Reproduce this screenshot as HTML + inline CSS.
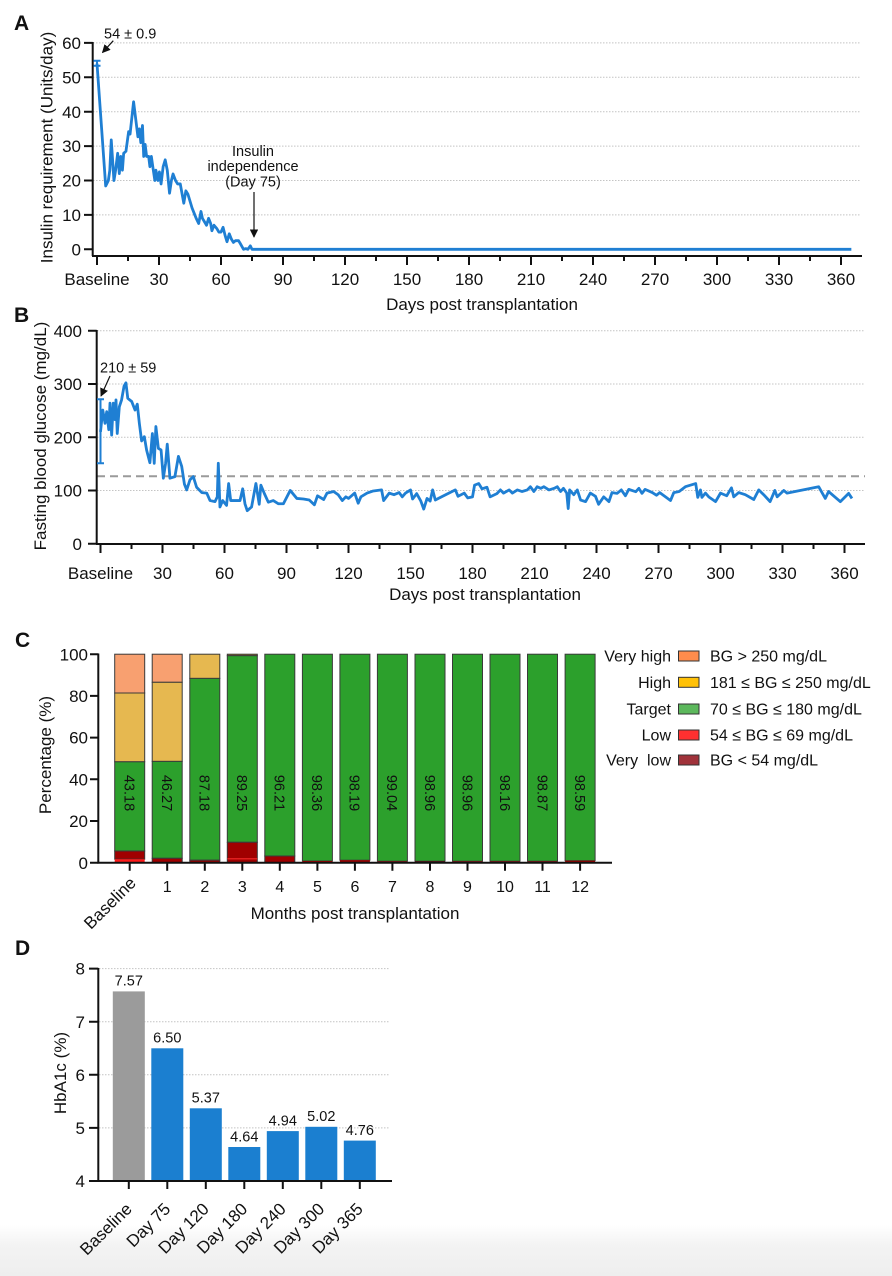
<!DOCTYPE html>
<html><head><meta charset="utf-8"><style>
html,body{margin:0;padding:0;background:#fff}
svg{display:block}
text{font-family:"Liberation Sans",Arial,sans-serif;fill:#111}
.ax{stroke:#111;stroke-width:2;fill:none}
.grid{stroke:#c4c4c4;stroke-width:1;stroke-dasharray:1.5 1.5;fill:none}
.t17{font-size:17px}
.t16{font-size:16px}
.t145{font-size:14.5px}
.lab{font-size:21px;font-weight:bold}
.ln{fill:none;stroke:#1f7fd3;stroke-width:2.8;stroke-linejoin:round;vector-effect:non-scaling-stroke}
.seg{stroke:#3a3a3a;stroke-width:1}
</style></head><body>
<svg width="892" height="1276" viewBox="0 0 892 1276" xmlns="http://www.w3.org/2000/svg">
<defs>
<linearGradient id="bot" x1="0" y1="0" x2="0" y2="1"><stop offset="0" stop-color="#fff"/><stop offset="0.4" stop-color="#f3f3f3"/><stop offset="1" stop-color="#eeeeee"/></linearGradient>
<marker id="ah" viewBox="0 0 10 10" refX="9" refY="5" markerWidth="7" markerHeight="7" orient="auto"><path d="M0,0 L10,5 L0,10 z" fill="#111"/></marker>
</defs>
<rect x="0" y="0" width="892" height="1276" fill="#fff"/>
<rect x="0" y="1225" width="892" height="51" fill="url(#bot)"/>

<!-- ================= PANEL A ================= -->
<text class="lab" x="14" y="30">A</text>
<g class="grid">
<line x1="93" y1="42.9" x2="861" y2="42.9"/><line x1="93" y1="77.3" x2="861" y2="77.3"/>
<line x1="93" y1="111.7" x2="861" y2="111.7"/><line x1="93" y1="146.1" x2="861" y2="146.1"/>
<line x1="93" y1="180.5" x2="861" y2="180.5"/><line x1="93" y1="214.9" x2="861" y2="214.9"/>
</g>
<path class="ax" d="M92.7,42 V256 M92,256 H862"/>
<path class="ax" d="M84,42.9 H92.7 M84,77.3 H92.7 M84,111.7 H92.7 M84,146.1 H92.7 M84,180.5 H92.7 M84,214.9 H92.7 M84,249.3 H92.7"/>
<path class="ax" d="M97,256 v9 M159,256 v9 M221,256 v9 M283,256 v9 M345,256 v9 M407,256 v9 M469,256 v9 M531,256 v9 M593,256 v9 M655,256 v9 M717,256 v9 M779,256 v9 M841,256 v9
M128,256 v5 M190,256 v5 M252,256 v5 M314,256 v5 M376,256 v5 M438,256 v5 M500,256 v5 M562,256 v5 M624,256 v5 M686,256 v5 M748,256 v5 M810,256 v5"/>
<g class="t17" text-anchor="end">
<text x="81" y="49">60</text><text x="81" y="83.4">50</text><text x="81" y="117.8">40</text>
<text x="81" y="152.2">30</text><text x="81" y="186.6">20</text><text x="81" y="221">10</text><text x="81" y="255.4">0</text>
</g>
<g class="t17" text-anchor="middle">
<text x="97" y="285">Baseline</text><text x="159" y="285">30</text><text x="221" y="285">60</text><text x="283" y="285">90</text>
<text x="345" y="285">120</text><text x="407" y="285">150</text><text x="469" y="285">180</text><text x="531" y="285">210</text>
<text x="593" y="285">240</text><text x="655" y="285">270</text><text x="717" y="285">300</text><text x="779" y="285">330</text><text x="841" y="285">360</text>
<text x="482" y="310">Days post transplantation</text>
</g>
<text class="t17" text-anchor="middle" transform="translate(52.5,147.5) rotate(-90)">Insulin requirement (Units/day)</text>
<g transform="translate(97,249.3) scale(2.0667,-3.44)">
<polyline class="ln" points="0,54 4.2,18.4 5.5,20 6.2,23 6.9,31.8 8.2,20 9,23 10,27.9 10.8,22 11.5,27 12.3,23 12.9,27.9 14,28.5 15.3,34.2 16,33.5 17.7,42.9 18.5,39 19.8,32.7 20.5,35 21.2,31 22,36 22.6,27 23.3,30.5 24,27 25,27 25.6,24 26.3,27 27,24 28,20 28.5,23 29.5,20 30.2,22.5 31,19 32,24 33,26 34,23 35.1,16.3 36,20 36.8,21.9 38,20 39,19 40.3,19 41.2,16 42,13.4 43,17 44,16 45,14 46,12 47,10.5 48,9 49.2,7.5 50.3,11 51,9 52,8 53,7 54,9 55,7.5 55.6,5.4 56.6,7 58,6 59,5 60,5 61,6.4 62,4 62.9,2.2 64,4.5 65,3 66,2 67,2.5 68.5,2.5 69.5,1.5 70.9,0 72,0.2 73,0 74.2,1 75,0 365,0"/>
</g>
<path d="M97,60.7 V65.7 M93.5,60.7 H100.5 M93.5,65.7 H100.5" stroke="#1f7fd3" stroke-width="2" fill="none"/>
<text class="t145" x="104" y="38.5">54 ± 0.9</text>
<line x1="113.3" y1="40.7" x2="102.5" y2="52.5" stroke="#111" stroke-width="1.2" marker-end="url(#ah)"/>
<g class="t145" text-anchor="middle">
<text x="253" y="156">Insulin</text><text x="253" y="171">independence</text><text x="253" y="186.5">(Day 75)</text>
</g>
<line x1="254" y1="192" x2="254" y2="237" stroke="#111" stroke-width="1.2" marker-end="url(#ah)"/>

<!-- ================= PANEL B ================= -->
<text class="lab" x="14" y="322">B</text>
<g class="grid">
<line x1="97" y1="330.7" x2="865" y2="330.7"/><line x1="97" y1="384" x2="865" y2="384"/>
<line x1="97" y1="437.2" x2="865" y2="437.2"/><line x1="97" y1="490.5" x2="865" y2="490.5"/>
</g>
<line x1="97" y1="476.3" x2="865" y2="476.3" stroke="#9a9a9a" stroke-width="2" stroke-dasharray="8 5"/>
<path class="ax" d="M96.7,330 V544 M96,544 H865"/>
<path class="ax" d="M88,330.7 H96.7 M88,384 H96.7 M88,437.2 H96.7 M88,490.5 H96.7 M88,543.7 H96.7"/>
<path class="ax" d="M100.5,544 v9 M162.5,544 v9 M224.5,544 v9 M286.5,544 v9 M348.5,544 v9 M410.5,544 v9 M472.5,544 v9 M534.5,544 v9 M596.5,544 v9 M658.5,544 v9 M720.5,544 v9 M782.5,544 v9 M844.5,544 v9
M131.5,544 v5 M193.5,544 v5 M255.5,544 v5 M317.5,544 v5 M379.5,544 v5 M441.5,544 v5 M503.5,544 v5 M565.5,544 v5 M627.5,544 v5 M689.5,544 v5 M751.5,544 v5 M813.5,544 v5"/>
<g class="t17" text-anchor="end">
<text x="82" y="336.8">400</text><text x="82" y="390.1">300</text><text x="82" y="443.3">200</text><text x="82" y="496.6">100</text><text x="82" y="549.8">0</text>
</g>
<g class="t17" text-anchor="middle">
<text x="100.5" y="579">Baseline</text><text x="162.5" y="579">30</text><text x="224.5" y="579">60</text><text x="286.5" y="579">90</text>
<text x="348.5" y="579">120</text><text x="410.5" y="579">150</text><text x="472.5" y="579">180</text><text x="534.5" y="579">210</text>
<text x="596.5" y="579">240</text><text x="658.5" y="579">270</text><text x="720.5" y="579">300</text><text x="782.5" y="579">330</text><text x="844.5" y="579">360</text>
<text x="485" y="600">Days post transplantation</text>
</g>
<text class="t17" text-anchor="middle" transform="translate(46,436) rotate(-90)">Fasting blood glucose (mg/dL)</text>
<g transform="translate(100.5,543.7) scale(2.0667,-0.5325)">
<polyline class="ln" points="0,210 1.1,251 2.2,226 3,248 4,214 4.6,264 5.4,204 6.2,264 7,233 7.5,270 8.1,207 9.1,257 10.2,270 11.4,296 12.3,302 13.2,273 15.1,267 16.7,251 17.8,262 18.8,226 19.9,193 21.2,201 22.3,176 23.9,152 25.1,207 26,151 26.8,220 28,179 29.3,176 30.4,123 31.5,151 32.3,187 33.6,123 36,126 37.7,164 39.3,145 40.6,112 41.7,101 43.3,120 44.9,126 46.5,106 49,96 51.4,95 53,81 55.4,79 56.5,88 57,151 57.8,69 59.1,81 61,72 62,113 63,81 65,81 67.5,81 68.8,103 69.9,75 71,62 73.1,69 75.2,113 76.8,74 77.6,110 79.3,94 81.2,78 83.6,81 86.1,75 88.5,75 91.8,100 95,85 98.2,84 101,82 103.5,73 105,90 108,83 109.6,95 112.8,98 115,92 117,81 118.7,88 120,85 123,95 124.7,76 126,88 129,95 132,99 136,101 137,81 139.7,95 142,92 144.5,96 146,88 147.6,95 150,101 151,84 153,94 155,80 156.4,65 158,85 159.5,80 160.7,101 162,82 164,86 167,92 171.7,101 173,89 176,95 177.7,86 180,88 181,110 183,113 184.6,103 187,106 188.5,88 191.8,94 193.5,101 195,95 197.7,101 199.3,95 201.7,101 204,98 206.5,101 208,107 209.7,98 211.3,107 213,104 214.5,107 217,101 219.5,104 221,107 222.6,98 224,104 225.6,95 226.3,66 227,101 229,92 230.7,101 232.3,82 234.7,79 237,95 239.5,89 241,74 243.5,88 246,79 247.5,96 250,94.6 252,101 254,90 255.6,102 259,97.6 260.5,104 262,94.6 263.5,102 267,96 269,91 270.6,96 273.4,88 275.8,81 277.4,96 280,98 283,107 288,113 289,87 290.3,101 291,87 292.7,95 294.3,88 297.6,79 300,95 303,90 305.3,105 306.4,88 308.8,96 312,92 316.1,83 318.5,101 320.9,92 324,79 326.3,100 327.4,88 330.6,100 332.2,95 347.5,107 350.7,85 352.3,98 358,79 362,94.6 363.6,85"/>
</g>
<path d="M100.5,399.3 V463.3 M97,399.3 H104 M97,463.3 H104" stroke="#1f7fd3" stroke-width="2" fill="none"/>
<text class="t145" x="100" y="372.5">210 ± 59</text>
<line x1="110" y1="376" x2="101" y2="396" stroke="#111" stroke-width="1.2" marker-end="url(#ah)"/>

<!-- ================= PANEL C ================= -->
<text class="lab" x="15" y="647">C</text>
<g>
<rect class="seg" x="114.7" y="654.2" width="30" height="38.8" fill="#f8a070"/>
<rect class="seg" x="114.7" y="693" width="30" height="68.8" fill="#e6b850"/>
<rect class="seg" x="114.7" y="761.8" width="30" height="89.2" fill="#2ca02c"/>
<rect class="seg" x="114.7" y="851" width="30" height="8.2" fill="#a00000"/>
<rect x="114.7" y="859.2" width="30" height="3.5" fill="#ff1a1a"/>
<rect class="seg" x="152.2" y="654.2" width="30" height="28.1" fill="#f8a070"/>
<rect class="seg" x="152.2" y="682.3" width="30" height="79.1" fill="#e6b850"/>
<rect class="seg" x="152.2" y="761.4" width="30" height="96.9" fill="#2ca02c"/>
<rect class="seg" x="152.2" y="858.3" width="30" height="4.4" fill="#a00000"/>
<rect class="seg" x="189.8" y="654.2" width="30" height="24.2" fill="#e6b850"/>
<rect class="seg" x="189.8" y="678.4" width="30" height="181.8" fill="#2ca02c"/>
<rect class="seg" x="189.8" y="860.2" width="30" height="2.5" fill="#a00000"/>
<rect class="seg" x="227.3" y="654.2" width="30" height="1.5" fill="#b08030"/>
<rect class="seg" x="227.3" y="655.7" width="30" height="186.6" fill="#2ca02c"/>
<rect class="seg" x="227.3" y="842.3" width="30" height="20.4" fill="#a00000"/>
<rect x="227.3" y="858" width="30" height="1.5" fill="#e02020"/>
<rect class="seg" x="264.8" y="654.2" width="30" height="201.8" fill="#2ca02c"/>
<rect class="seg" x="264.8" y="856" width="30" height="6.7" fill="#a00000"/>
<rect class="seg" x="302.4" y="654.2" width="30" height="206.8" fill="#2ca02c"/>
<rect x="302.4" y="861" width="30" height="1.7" fill="#a00000"/>
<rect class="seg" x="339.9" y="654.2" width="30" height="206" fill="#2ca02c"/>
<rect x="339.9" y="860.2" width="30" height="2.5" fill="#a00000"/>
<rect class="seg" x="377.4" y="654.2" width="30" height="207" fill="#2ca02c"/>
<rect x="377.4" y="861.2" width="30" height="1.5" fill="#8a1010"/>
<rect class="seg" x="415" y="654.2" width="30" height="207" fill="#2ca02c"/>
<rect x="415" y="861.2" width="30" height="1.5" fill="#5a1010"/>
<rect class="seg" x="452.5" y="654.2" width="30" height="207" fill="#2ca02c"/>
<rect x="452.5" y="861.2" width="30" height="1.5" fill="#8a1010"/>
<rect class="seg" x="490" y="654.2" width="30" height="207" fill="#2ca02c"/>
<rect x="490" y="861.2" width="30" height="1.5" fill="#8a1010"/>
<rect class="seg" x="527.5" y="654.2" width="30" height="207" fill="#2ca02c"/>
<rect x="527.5" y="861.2" width="30" height="1.5" fill="#8a1010"/>
<rect class="seg" x="565.1" y="654.2" width="30" height="206.5" fill="#2ca02c"/>
<rect x="565.1" y="860.7" width="30" height="2" fill="#a00000"/>
</g>
<g class="t145">
<text transform="translate(124.5,793) rotate(90)" text-anchor="middle">43.18</text>
<text transform="translate(162,793) rotate(90)" text-anchor="middle">46.27</text>
<text transform="translate(199.6,793) rotate(90)" text-anchor="middle">87.18</text>
<text transform="translate(237.1,793) rotate(90)" text-anchor="middle">89.25</text>
<text transform="translate(274.6,793) rotate(90)" text-anchor="middle">96.21</text>
<text transform="translate(312.2,793) rotate(90)" text-anchor="middle">98.36</text>
<text transform="translate(349.7,793) rotate(90)" text-anchor="middle">98.19</text>
<text transform="translate(387.2,793) rotate(90)" text-anchor="middle">99.04</text>
<text transform="translate(424.8,793) rotate(90)" text-anchor="middle">98.96</text>
<text transform="translate(462.3,793) rotate(90)" text-anchor="middle">98.96</text>
<text transform="translate(499.8,793) rotate(90)" text-anchor="middle">98.16</text>
<text transform="translate(537.3,793) rotate(90)" text-anchor="middle">98.87</text>
<text transform="translate(574.9,793) rotate(90)" text-anchor="middle">98.59</text>
</g>
<path class="ax" d="M98.3,653.5 V862.7 M97.5,862.7 H612"/>
<path class="ax" d="M90,654.2 H98.3 M90,695.9 H98.3 M90,737.6 H98.3 M90,779.3 H98.3 M90,821 H98.3 M90,862.7 H98.3"/>
<path class="ax" d="M129.7,862.7 v8 M167.2,862.7 v8 M204.8,862.7 v8 M242.3,862.7 v8 M279.8,862.7 v8 M317.4,862.7 v8 M354.9,862.7 v8 M392.4,862.7 v8 M430,862.7 v8 M467.5,862.7 v8 M505,862.7 v8 M542.5,862.7 v8 M580.1,862.7 v8"/>
<g class="t17" text-anchor="end">
<text x="88" y="660.3">100</text><text x="88" y="702">80</text><text x="88" y="743.7">60</text>
<text x="88" y="785.4">40</text><text x="88" y="827.1">20</text><text x="88" y="868.8">0</text>
</g>
<g class="t16" text-anchor="middle">
<text x="167.2" y="892">1</text><text x="204.8" y="892">2</text><text x="242.3" y="892">3</text><text x="279.8" y="892">4</text>
<text x="317.4" y="892">5</text><text x="354.9" y="892">6</text><text x="392.4" y="892">7</text><text x="430" y="892">8</text>
<text x="467.5" y="892">9</text><text x="505" y="892">10</text><text x="542.5" y="892">11</text><text x="580.1" y="892">12</text>
</g>
<text class="t17" text-anchor="end" transform="translate(137,884) rotate(-45)">Baseline</text>
<text class="t17" text-anchor="middle" x="355" y="919">Months post transplantation</text>
<text class="t17" text-anchor="middle" transform="translate(51,755) rotate(-90)">Percentage (%)</text>
<g class="t16">
<text x="671" y="661.5" text-anchor="end">Very high</text>
<text x="671" y="687.8" text-anchor="end">High</text>
<text x="671" y="714.5" text-anchor="end">Target</text>
<text x="671" y="740.5" text-anchor="end">Low</text>
<text x="671" y="765.5" text-anchor="end" xml:space="preserve">Very  low</text>
<text x="710" y="661.5">BG &gt; 250 mg/dL</text>
<text x="710" y="687.8">181 ≤ BG ≤ 250 mg/dL</text>
<text x="710" y="714.5">70 ≤ BG ≤ 180 mg/dL</text>
<text x="710" y="740.5">54 ≤ BG ≤ 69 mg/dL</text>
<text x="710" y="765.5">BG &lt; 54 mg/dL</text>
</g>
<g stroke="#333" stroke-width="1">
<rect x="678.5" y="651" width="20.5" height="10" fill="#ff8c4c"/>
<rect x="678.5" y="677.3" width="20.5" height="10" fill="#ffc107"/>
<rect x="678.5" y="704" width="20.5" height="10" fill="#5cb85c"/>
<rect x="678.5" y="730" width="20.5" height="10" fill="#ff3030"/>
<rect x="678.5" y="755" width="20.5" height="10" fill="#a0323a"/>
</g>

<!-- ================= PANEL D ================= -->
<text class="lab" x="15" y="955">D</text>
<g class="grid">
<line x1="99" y1="968.6" x2="390" y2="968.6"/><line x1="99" y1="1021.7" x2="390" y2="1021.7"/>
<line x1="99" y1="1074.8" x2="390" y2="1074.8"/><line x1="99" y1="1127.9" x2="390" y2="1127.9"/>
</g>
<rect x="112.8" y="991.4" width="32" height="189.6" fill="#9b9b9b"/>
<g fill="#1b7fd0">
<rect x="151.3" y="1048.3" width="32" height="132.7"/>
<rect x="189.8" y="1108.3" width="32" height="72.7"/>
<rect x="228.3" y="1147" width="32" height="34"/>
<rect x="266.8" y="1131.1" width="32" height="49.9"/>
<rect x="305.3" y="1126.8" width="32" height="54.2"/>
<rect x="343.8" y="1140.6" width="32" height="40.4"/>
</g>
<g class="t145" text-anchor="middle">
<text x="128.8" y="985.5">7.57</text><text x="167.3" y="1042.5">6.50</text><text x="205.8" y="1102.5">5.37</text>
<text x="244.3" y="1141.3">4.64</text><text x="282.8" y="1125.4">4.94</text><text x="321.3" y="1121.1">5.02</text><text x="359.8" y="1134.9">4.76</text>
</g>
<path class="ax" d="M98.3,968 V1181 M97.5,1181 H392"/>
<path class="ax" d="M89,968.6 H98.3 M89,1021.7 H98.3 M89,1074.8 H98.3 M89,1127.9 H98.3 M89,1181 H98.3"/>
<path class="ax" d="M128.8,1181 v8 M167.3,1181 v8 M205.8,1181 v8 M244.3,1181 v8 M282.8,1181 v8 M321.3,1181 v8 M359.8,1181 v8"/>
<g class="t17" text-anchor="end">
<text x="85" y="974.7">8</text><text x="85" y="1027.8">7</text><text x="85" y="1080.9">6</text><text x="85" y="1134">5</text><text x="85" y="1187.1">4</text>
</g>
<g class="t17" text-anchor="end">
<text transform="translate(133,1210) rotate(-45)">Baseline</text>
<text transform="translate(171.5,1210) rotate(-45)">Day 75</text>
<text transform="translate(210,1210) rotate(-45)">Day 120</text>
<text transform="translate(248.5,1210) rotate(-45)">Day 180</text>
<text transform="translate(287,1210) rotate(-45)">Day 240</text>
<text transform="translate(325.5,1210) rotate(-45)">Day 300</text>
<text transform="translate(364,1210) rotate(-45)">Day 365</text>
</g>
<text class="t17" text-anchor="middle" transform="translate(66,1073) rotate(-90)">HbA1c (%)</text>
</svg>
</body></html>
